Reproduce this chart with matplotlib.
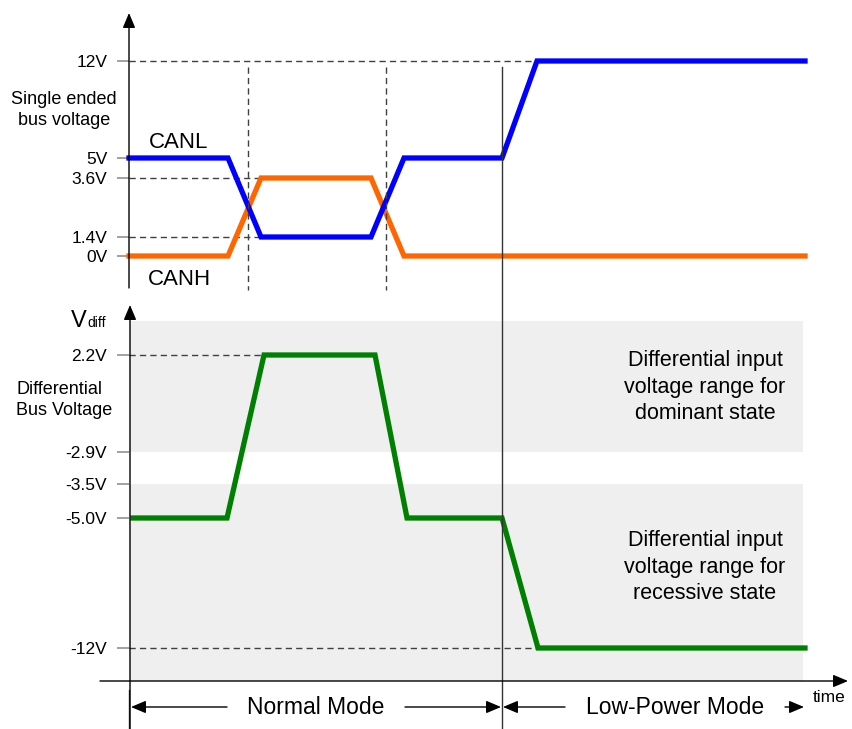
import numpy as np
import matplotlib
matplotlib.use("Agg")
import matplotlib.pyplot as plt
from matplotlib.transforms import blended_transform_factory

plt.rcParams['font.family'] = ['Liberation Sans', 'DejaVu Sans']

# ---------------- data ----------------
# time axis in arbitrary units
canl_t = [0.0, 9.9, 13.2, 24.2, 27.5, 37.3, 40.8, 67.6]
canl_v = [5, 5, 1.4, 1.4, 5, 5, 12, 12]
canh_t = [0.0, 9.9, 13.2, 24.2, 27.5, 67.6]
canh_v = [0, 0, 3.6, 3.6, 0, 0]
vdiff_t = [0.4, 9.8, 13.5, 24.6, 27.8, 37.3, 40.9, 67.6]
vdiff_v = [-5, -5, 2.2, 2.2, -5, -5, -12, -12]

top_levels = [0, 1.4, 3.6, 5, 12]
top_labels = ["0V", "1.4V", "3.6V", "5V", "12V"]
bot_levels = [-12, -5.0, -3.5, -2.9, 2.2]
bot_labels = ["-12V", "-5.0V", "-3.5V", "-2.9V", "2.2V"]

bit_edges = [11.9, 25.7]     # dashed bit markers
mode_change = 37.3           # Normal -> Low-Power
dom_range = (-2.9, 3.5)
rec_range = (-13.5, -3.5)

# ---------------- layout ----------------
W, H = 852, 729
fig = plt.figure(figsize=(W / 100, H / 100), dpi=100)

def rect(x0, y0, x1, y1):
    return [x0 / W, 1 - y1 / H, (x1 - x0) / W, (y1 - y0) / H]

# schematic (non-linear) voltage placement: pixel rows of each level
top_map_v = [0, 1.4, 3.6, 5, 12]
top_map_p = [256, 237, 178, 158, 61]
bot_map_v = [-13.5, -12, -5, -3.5, -2.9, 2.2, 3.5]
bot_map_p = [681, 648, 518, 484, 452, 355, 321]

def make_scale(vals, pix):
    pos = -np.asarray(pix, float)
    vals = np.asarray(vals, float)
    fwd = lambda v: np.interp(v, vals, pos)
    inv = lambda p: np.interp(p, pos, vals)
    return fwd, inv

ax_top = fig.add_axes(rect(129, 61, 805, 256))
ax_bot = fig.add_axes(rect(129, 321, 805, 681))
ov = fig.add_axes([0, 0, 1, 1], zorder=5)
ov.set_xlim(0, W)
ov.set_ylim(H, 0)
ov.axis('off')
ov.patch.set_alpha(0)

for ax, mv, mp, lv, lb in [(ax_top, top_map_v, top_map_p, top_levels, top_labels),
                           (ax_bot, bot_map_v, bot_map_p, bot_levels, bot_labels)]:
    f, i = make_scale(mv, mp)
    ax.set_yscale('function', functions=(f, i))
    ax.set_ylim(mv[0], mv[-1])
    ax.set_xlim(0, 67.6)
    ax.set_facecolor('none')
    for s in ax.spines.values():
        s.set_visible(False)
    ax.set_xticks([])
    ax.set_yticks(lv)
    ax.set_yticklabels(lb)
    ax.yaxis.set_minor_locator(matplotlib.ticker.NullLocator())
    ax.tick_params(axis='y', length=8.6, width=1.1, color='#888888', pad=7,
                   labelsize=12.5, labelcolor='black')

ax_top.set_ylim(0, 12)

dash = dict(color='#404040', lw=1.0, linestyle=(0, (4.5, 3)), zorder=1)

# ---- top panel ----
ax_top.plot([0, 40.8], [12, 12], clip_on=False, **dash)
ax_top.plot([0, 13.2], [3.6, 3.6], clip_on=False, **dash)
ax_top.plot([0, 13.2], [1.4, 1.4], clip_on=False, **dash)
ax_top.plot(canh_t, canh_v, color='#FF6600', lw=3.8, clip_on=False, zorder=3,
            solid_joinstyle='miter')
ax_top.plot(canl_t, canl_v, color='#0000FF', lw=3.8, clip_on=False, zorder=4,
            solid_joinstyle='miter')

# ---- bottom panel ----
xmax_band = (803 - 129) / 676
ax_bot.axhspan(*dom_range, xmin=0, xmax=xmax_band, color='#efefef', lw=0, zorder=0)
ax_bot.axhspan(*rec_range, xmin=0, xmax=xmax_band, color='#efefef', lw=0, zorder=0)
ax_bot.plot([0, 13.5], [2.2, 2.2], clip_on=False, **dash)
ax_bot.plot([0, 40.9], [-12, -12], clip_on=False, **dash)
ax_bot.plot(vdiff_t, vdiff_v, color='#008000', lw=3.8, clip_on=False, zorder=3,
            solid_joinstyle='miter')

# ---- vertical markers ----
tr = blended_transform_factory(ax_top.transData, ov.transData)
for t in bit_edges:
    ov.plot([t, t], [67, 290], transform=tr, color='#404040', lw=1.0,
            linestyle=(0, (4.5, 3)))
ov.plot([mode_change, mode_change], [67, 729], transform=tr, color='#333333', lw=1.0)
ov.plot([0, 0], [690, 729], transform=tr, color='#333333', lw=1.0)

# ---- axes arrows ----
def arrow(x0, y0, x1, y1, lw=1.0):
    ov.annotate('', xy=(x1, y1), xytext=(x0, y0),
                arrowprops=dict(arrowstyle='-|>,head_length=0.9,head_width=0.38',
                                lw=lw, color='black', shrinkA=0, shrinkB=0,
                                mutation_scale=10))

arrow(129, 288, 129, 13)
arrow(130, 729, 130, 305)
arrow(100, 681, 848, 681)

# mode arrows
arrow(227, 707, 131, 707)
arrow(405, 707, 501, 707)
arrow(565, 707, 503, 707)
arrow(785, 707, 804, 707)

# ---- texts ----
ov.text(64, 110, "Single ended\nbus voltage", fontsize=13, ha='center', va='center',
        linespacing=1.25)
ov.text(16, 400, "Differential\nBus Voltage", fontsize=13, ha='left', va='center',
        linespacing=1.25)
ov.text(149, 142, "CANL", fontsize=16, ha='left', va='center')
ov.text(148, 279, "CANH", fontsize=16, ha='left', va='center')
ov.text(71, 327, "V", fontsize=17, ha='left', va='baseline')
ov.text(87, 327, "diff", fontsize=10, ha='left', va='baseline')

ov.text(705, 387, "Differential input\nvoltage range for\ndominant state",
        fontsize=15.5, ha='center', va='center', linespacing=1.33)
ov.text(705, 567, "Differential input\nvoltage range for\nrecessive state",
        fontsize=15.5, ha='center', va='center', linespacing=1.33)

ov.text(316, 707, "Normal Mode", fontsize=16.5, ha='center', va='center')
ov.text(675, 707, "Low-Power Mode", fontsize=16.5, ha='center', va='center')
ov.text(813, 697, "time", fontsize=12.5, ha='left', va='center')

fig.savefig("out.png", dpi=100)
